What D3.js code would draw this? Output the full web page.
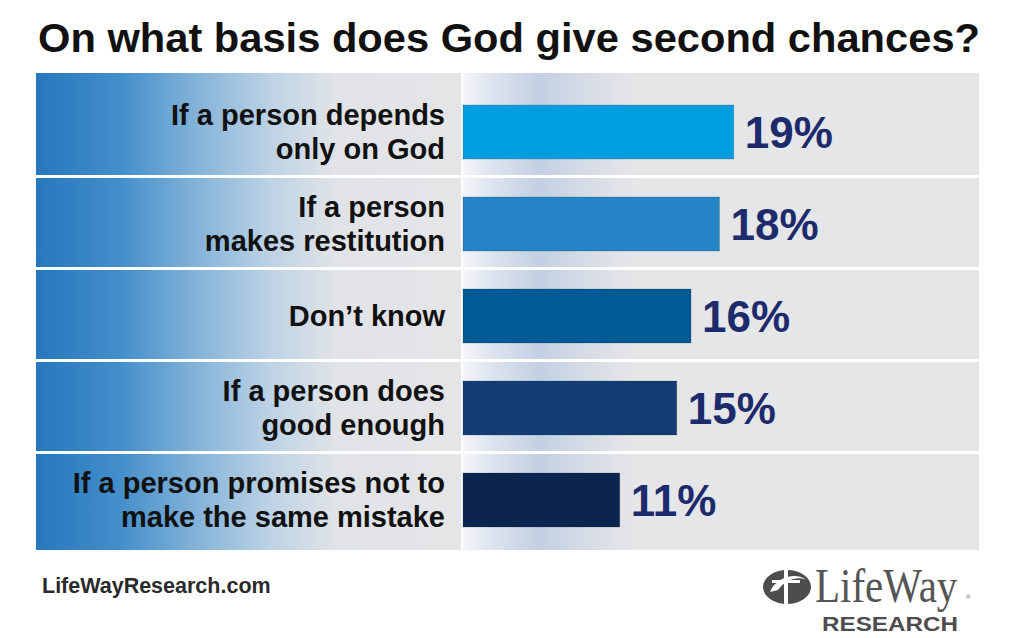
<!DOCTYPE html>
<html><head><meta charset="utf-8">
<script src="https://cdn.jsdelivr.net/npm/d3@7"></script>
<style>
html,body{margin:0;padding:0;background:#fff;}
svg{display:block;font-family:"Liberation Sans",Arial,sans-serif;}
</style></head>
<body>
<svg id="chart" width="1020" height="638"></svg>
<script>
// ---- data ----
const title = "On what basis does God give second chances?";
const categories = [
  "If a person depends only on God",
  "If a person makes restitution",
  "Don’t know",
  "If a person does good enough",
  "If a person promises not to make the same mistake"
];
const labelLines = [
  ["If a person depends", "only on God"],
  ["If a person", "makes restitution"],
  ["Don’t know"],
  ["If a person does", "good enough"],
  ["If a person promises not to", "make the same mistake"]
];
const values = [19, 18, 16, 15, 11];
const valueLabels = ["19%", "18%", "16%", "15%", "11%"];
const barColors = ["#009edf", "#2484c6", "#005a93", "#133e75", "#0c2550"];
const sourceText = "LifeWayResearch.com";

// ---- layout ----
const svg = d3.select("#chart");
const panelTop = 73, panelBottom = 550;
const leftX0 = 36, leftX1 = 461, rightX0 = 463, rightX1 = 979;

const y = d3.scaleBand().domain(categories).range([86, 546]).paddingInner(0);
const x = d3.scaleLinear().domain([0, 20]).range([rightX0, rightX0 + 285]);
const step = y.step();

const defs = svg.append("defs");
const gl = defs.append("linearGradient").attr("id", "gLeft")
  .attr("gradientUnits", "userSpaceOnUse")
  .attr("x1", leftX0).attr("x2", leftX1).attr("y1", 0).attr("y2", 0);
[[0, "#2777be"], [0.2, "#448fcb"], [0.38, "#84b3d8"], [0.55, "#bcd2e5"], [0.7, "#e0e3e7"], [1, "#e5e5e7"]]
  .forEach(([o, c]) => gl.append("stop").attr("offset", o).attr("stop-color", c));
const gr = defs.append("linearGradient").attr("id", "gRight")
  .attr("gradientUnits", "userSpaceOnUse")
  .attr("x1", rightX0).attr("x2", rightX1).attr("y1", 0).attr("y2", 0);
[[0, "#f3f5f9"], [0.06, "#dbe3ee"], [0.15, "#c3d0e3"], [0.24, "#d6dce6"], [0.33, "#e5e6e8"], [1, "#e6e6e8"]]
  .forEach(([o, c]) => gr.append("stop").attr("offset", o).attr("stop-color", c));

// title
svg.append("text").attr("x", 38).attr("y", 52)
  .attr("font-size", 41).attr("font-weight", "bold").attr("fill", "#111")
  .attr("textLength", 942).attr("lengthAdjust", "spacingAndGlyphs")
  .text(title);

const rowTop = (d, i) => i === 0 ? panelTop : y(d);
const rowBot = (d, i) => i === categories.length - 1 ? panelBottom : y(d) + step - 3;

const rows = svg.append("g").selectAll("g").data(categories).join("g");
rows.append("rect")
  .attr("x", leftX0).attr("width", leftX1 - leftX0)
  .attr("y", rowTop).attr("height", (d, i) => rowBot(d, i) - rowTop(d, i))
  .attr("fill", "url(#gLeft)");
rows.append("rect")
  .attr("x", rightX0).attr("width", rightX1 - rightX0)
  .attr("y", rowTop).attr("height", (d, i) => rowBot(d, i) - rowTop(d, i))
  .attr("fill", "url(#gRight)");

// bars
const barH = 54;
svg.append("g").selectAll("rect").data(categories).join("rect")
  .attr("x", x(0))
  .attr("y", d => y(d) + step / 2 - barH / 2)
  .attr("width", (d, i) => x(values[i]) - x(0))
  .attr("height", barH)
  .attr("fill", (d, i) => barColors[i])
  .attr("stroke", "rgba(0,0,0,0.15)").attr("stroke-width", 1);

// value labels
svg.append("g").selectAll("text").data(categories).join("text")
  .attr("x", (d, i) => x(values[i]) + 11)
  .attr("y", d => y(d) + step / 2 + 16)
  .attr("font-size", 44).attr("font-weight", "bold").attr("fill", "#1d2a6b")
  .text((d, i) => valueLabels[i]);

// category labels
const lineGap = 34;
const lab = svg.append("g").selectAll("text").data(categories).join("text")
  .attr("text-anchor", "end").attr("font-size", 29).attr("font-weight", "bold").attr("fill", "#111");
lab.each(function (d, i) {
  const lines = labelLines[i];
  const cy = y(d) + step / 2;
  d3.select(this).selectAll("tspan").data(lines).join("tspan")
    .attr("x", 445)
    .attr("y", (l, j) => cy + (j - (lines.length - 1) / 2) * lineGap + 10)
    .text(l => l);
});

// source
svg.append("text").attr("x", 42).attr("y", 593)
  .attr("font-size", 21.5).attr("font-weight", "bold").attr("fill", "#2a2a2a")
  .text(sourceText);

// logo
const logo = svg.append("g");
logo.append("ellipse").attr("cx", 787).attr("cy", 587).attr("rx", 24).attr("ry", 17).attr("fill", "#4d4d4d");
logo.append("path").attr("d", "M770,592 C776,576 798,572 806,580 C800,576 786,578 778,590 Z").attr("fill", "#fff");
logo.append("rect").attr("x", 784).attr("y", 570).attr("width", 4).attr("height", 34).attr("fill", "#fff");
logo.append("rect").attr("x", 772).attr("y", 580).attr("width", 28).attr("height", 3).attr("fill", "#fff");
logo.append("text").attr("transform", "translate(815,602) scale(1,1.17)")
  .attr("font-family", "'Liberation Serif','DejaVu Serif',serif").attr("font-size", 41)
  .attr("fill", "#555")
  .text("LifeWay");
logo.append("text").attr("x", 966).attr("y", 599).attr("font-size", 6).attr("fill", "#666").text("®");
logo.append("text").attr("x", 822).attr("y", 631)
  .attr("font-size", 20).attr("font-weight", "bold").attr("fill", "#4d4d4d")
  .attr("textLength", 136).attr("lengthAdjust", "spacingAndGlyphs")
  .text("RESEARCH");
</script>
</body></html>
